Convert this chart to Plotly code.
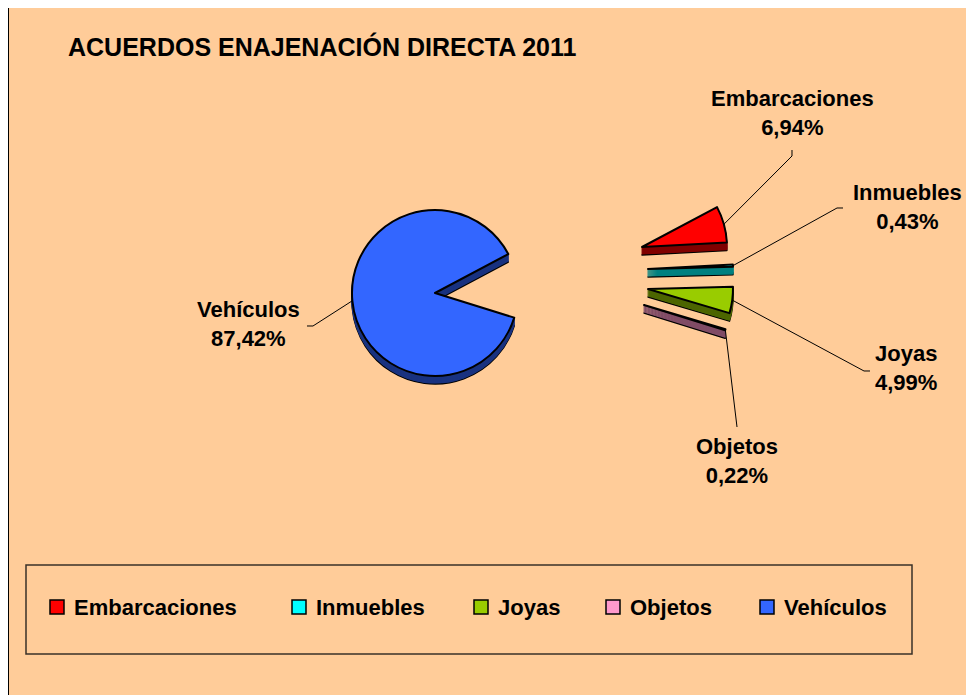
import math
import plotly.graph_objects as go

# ---------------- data ----------------
categories = ["Embarcaciones", "Inmuebles", "Joyas", "Objetos", "Vehículos"]
values = [6.94, 0.43, 4.99, 0.22, 87.42]
top_colors = ["#FF0000", "#00FFFF", "#99CC00", "#FF99CC", "#3366FF"]
side_colors = ["#800000", "#008080", "#4D6600", "#804C66", "#1A3380"]
title_text = "ACUERDOS ENAJENACIÓN DIRECTA 2011"

# ---------------- layout helpers ----------------
OFF = 8                      # page offset of the figure (body margin)
W, H = 974 - OFF, 695 - OFF  # figure size
ROT = 62          # start angle (deg clockwise from 12 o'clock)
DEPTH = 8         # fake 3D thickness in px
FONT = "Arial, Liberation Sans, Helvetica, sans-serif"
PEACH = "#FFCC99"
CLEAR = "rgba(0,0,0,0)"


def px(x):
    return (x - OFF) / W


def py(y):
    return 1 - (y - OFF) / H


def dom(cx, cy, r):
    return dict(x=[px(cx - r), px(cx + r)], y=[py(cy + r), py(cy - r)])


# which slice each pie shows, and where that pie sits (page px)
pie_place = {
    4: (435, 293, 83),
    0: (642, 247, 85),
    1: (648, 269, 85),
    2: (648, 289, 85),
    3: (644, 305, 85),
}
draw_order = [4, 0, 1, 2, 3]

fig = go.Figure()
n = len(categories)
for idx in draw_order:
    cx, cy, r = pie_place[idx]
    for k in range(DEPTH, -1, -1):
        is_top = k == 0
        cols, lcols, lw = [], [], []
        for i in range(n):
            if i != idx:
                cols.append(CLEAR); lcols.append(CLEAR); lw.append(0)
            elif is_top:
                cols.append(top_colors[i]); lcols.append("#000000"); lw.append(2)
            elif k == DEPTH:
                cols.append(side_colors[i]); lcols.append("#000000"); lw.append(1.5)
            else:
                cols.append(side_colors[i]); lcols.append(side_colors[i]); lw.append(1.2)
        fig.add_trace(go.Pie(
            labels=categories, values=values, sort=False, direction="clockwise",
            rotation=ROT, textinfo="none",
            hoverinfo="label+percent" if is_top else "skip",
            marker=dict(colors=cols, line=dict(color=lcols, width=lw)),
            domain=dom(cx, cy + k, r),
            showlegend=False,
        ))

# ---------------- slice anchor points from data ----------------
total = sum(values)
anchors = []
acc = 0.0
for i, v in enumerate(values):
    mid = ROT + (acc + v / 2) / total * 360
    acc += v
    cx, cy, r = pie_place[i]
    t = math.radians(mid)
    anchors.append((cx + r * math.sin(t), cy - r * math.cos(t)))

label_pos = {0: (792, 113), 1: (907, 207), 2: (906, 368), 3: (737, 461), 4: (248, 324)}
leader_pts = {
    0: [(792, 150), (792, 156)],
    1: [(843, 208), (837, 208)],
    2: [(870, 371), (864, 371)],
    3: [(737, 427)],
    4: [(307, 326), (313, 326)],
}

shapes = []
# outer chart area
shapes.append(dict(type="rect", xref="paper", yref="paper", layer="below",
                   x0=px(8), x1=1.02, y0=-0.02, y1=py(7),
                   fillcolor=PEACH, line=dict(color="#000000", width=2)))
# legend box
shapes.append(dict(type="rect", xref="paper", yref="paper", layer="above",
                   x0=px(26), x1=px(912), y0=py(654), y1=py(565),
                   fillcolor=CLEAR, line=dict(color="#3a3028", width=1.5)))

annotations = []
for i in range(n):
    pts = leader_pts[i] + [anchors[i]]
    path = "M " + " L ".join(f"{px(a):.5f},{py(b):.5f}" for a, b in pts)
    shapes.append(dict(type="path", xref="paper", yref="paper", path=path,
                       line=dict(color="#000000", width=1)))
    lx, ly = label_pos[i]
    txt = f"{categories[i]}<br>{values[i]:.2f}%".replace(".", ",")
    annotations.append(dict(x=px(lx), y=py(ly), xref="paper", yref="paper",
                            text=txt, showarrow=False, xanchor="center", yanchor="middle",
                            align="center",
                            font=dict(family=FONT, size=22, color="#000000", weight="bold")))

# custom legend
legend_x = [50, 292, 474, 606, 760]
leg_y = 607
for i in range(n):
    x0 = legend_x[i]
    shapes.append(dict(type="rect", xref="paper", yref="paper",
                       x0=px(x0), x1=px(x0 + 14), y0=py(leg_y + 7), y1=py(leg_y - 7),
                       fillcolor=top_colors[i], line=dict(color="#000000", width=1.5)))
    annotations.append(dict(x=px(x0 + 22), y=py(leg_y), xref="paper", yref="paper",
                            text=categories[i], showarrow=False, xanchor="left", yanchor="middle",
                            font=dict(family=FONT, size=22, color="#000000", weight="bold")))

fig.update_layout(
    width=W, height=H,
    margin=dict(l=0, r=0, t=0, b=0),
    paper_bgcolor="#FFFFFF",
    plot_bgcolor=PEACH,
    title=dict(text=title_text, x=px(68), y=py(47), xanchor="left", yanchor="middle",
               xref="paper", yref="paper",
               font=dict(family=FONT, size=25, color="#000000", weight="bold")),
    shapes=shapes,
    annotations=annotations,
    showlegend=False,
)

fig.write_html("out.html")
